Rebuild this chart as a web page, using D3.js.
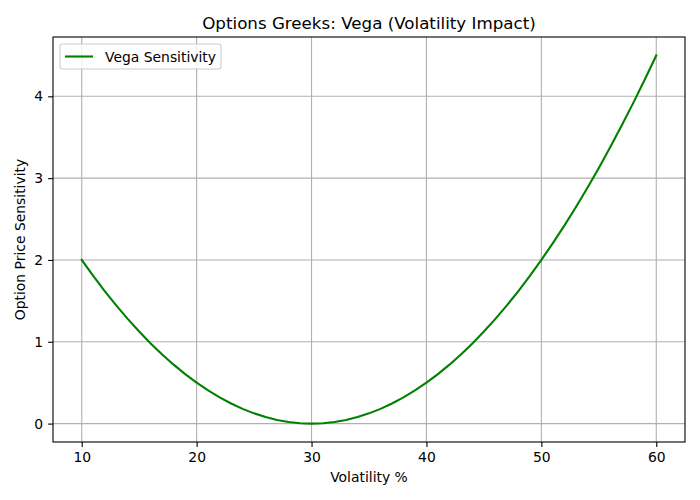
<!DOCTYPE html>
<html>
<head>
<meta charset="utf-8">
<script src="https://cdn.jsdelivr.net/npm/d3@7"></script>
<style>
  body { margin: 0; background: #fff; }
  text { font-family: "DejaVu Sans", sans-serif; fill: #000; }
</style>
</head>
<body>
<div id="chart"></div>
<script>
// Volatility levels (%) and the vega sensitivity
var volatility = [10, 11, 12, 13, 14, 15, 16, 17, 18, 19, 20, 21, 22, 23, 24, 25, 26, 27, 28, 29, 30,
  31, 32, 33, 34, 35, 36, 37, 38, 39, 40, 41, 42, 43, 44, 45, 46, 47, 48, 49, 50,
  51, 52, 53, 54, 55, 56, 57, 58, 59, 60];
var vega = [2.0, 1.805, 1.62, 1.445, 1.28, 1.125, 0.98, 0.845, 0.72, 0.605, 0.5, 0.405, 0.32, 0.245, 0.18, 0.125, 0.08, 0.045, 0.02, 0.005, 0.0,
  0.005, 0.02, 0.045, 0.08, 0.125, 0.18, 0.245, 0.32, 0.405, 0.5, 0.605, 0.72, 0.845, 0.98, 1.125, 1.28, 1.445, 1.62, 1.805, 2.0,
  2.205, 2.42, 2.645, 2.88, 3.125, 3.38, 3.645, 3.92, 4.205, 4.5];
var xTicks = [10, 20, 30, 40, 50, 60];
var yTicks = [0, 1, 2, 3, 4];

var svgWidth = 700;
var svgHeight = 500;
var margin = { top: 37, right: 15, bottom: 58, left: 53 };
var width = svgWidth - margin.left - margin.right;
var height = svgHeight - margin.top - margin.bottom;

var svg = d3.select("#chart")
  .append("svg")
  .attr("width", svgWidth)
  .attr("height", svgHeight);

var chartGroup = svg.append("g")
  .attr("transform", `translate(${margin.left}, ${margin.top})`);

// matplotlib style 5% padding on both axes
var xPad = (d3.max(volatility) - d3.min(volatility)) * 0.05;
var yPad = (d3.max(vega) - d3.min(vega)) * 0.05;

var xScale = d3.scaleLinear()
  .domain([d3.min(volatility) - xPad, d3.max(volatility) + xPad])
  .range([0, width]);

var yScale = d3.scaleLinear()
  .domain([d3.min(vega) - yPad, d3.max(vega) + yPad])
  .range([height, 0]);

// Grid lines
chartGroup.append("g")
  .selectAll("line")
  .data(xTicks)
  .enter()
  .append("line")
  .attr("x1", d => xScale(d))
  .attr("x2", d => xScale(d))
  .attr("y1", 0)
  .attr("y2", height)
  .attr("stroke", "#b0b0b0")
  .attr("stroke-width", 1.1);

chartGroup.append("g")
  .selectAll("line")
  .data(yTicks)
  .enter()
  .append("line")
  .attr("x1", 0)
  .attr("x2", width)
  .attr("y1", d => yScale(d))
  .attr("y2", d => yScale(d))
  .attr("stroke", "#b0b0b0")
  .attr("stroke-width", 1.1);

// Axes
var bottomAxis = d3.axisBottom(xScale).tickValues(xTicks).tickFormat(d3.format("d")).tickSize(4.9).tickPadding(4.9);
var leftAxis = d3.axisLeft(yScale).tickValues(yTicks).tickFormat(d3.format("d")).tickSize(4.9).tickPadding(4.9);

var xAxisG = chartGroup.append("g")
  .attr("transform", `translate(0, ${height})`)
  .call(bottomAxis);

var yAxisG = chartGroup.append("g")
  .call(leftAxis);

[xAxisG, yAxisG].forEach(function (g) {
  g.select(".domain").remove();
  g.selectAll(".tick line").attr("stroke", "#000").attr("stroke-width", 1.1);
  g.selectAll(".tick text")
    .style("font-family", "DejaVu Sans, sans-serif")
    .style("font-size", "13.9px")
    .attr("fill", "#000");
});

// The line
var line = d3.line()
  .x((d, i) => xScale(volatility[i]))
  .y(d => yScale(d));

chartGroup.append("path")
  .datum(vega)
  .attr("d", line)
  .attr("fill", "none")
  .attr("stroke", "green")
  .attr("stroke-width", 2.1)
  .attr("stroke-linejoin", "round")
  .attr("stroke-linecap", "square");

// Frame
chartGroup.append("rect")
  .attr("width", width)
  .attr("height", height)
  .attr("fill", "none")
  .attr("stroke", "#000")
  .attr("stroke-width", 1.1);

// Legend
var legend = chartGroup.append("g").attr("transform", "translate(7, 7)");
legend.append("rect")
  .attr("width", 161)
  .attr("height", 25)
  .attr("rx", 2.5)
  .attr("fill", "#fff")
  .attr("fill-opacity", 0.8)
  .attr("stroke", "#cccccc")
  .attr("stroke-width", 1.1);
legend.append("line")
  .attr("x1", 5).attr("x2", 33)
  .attr("y1", 12.5).attr("y2", 12.5)
  .attr("stroke", "green")
  .attr("stroke-width", 2.1);
legend.append("text")
  .attr("x", 45)
  .attr("y", 17.5)
  .style("font-size", "13.9px")
  .text("Vega Sensitivity");

// Title and labels
svg.append("text")
  .attr("x", margin.left + width / 2)
  .attr("y", 29)
  .style("text-anchor", "middle")
  .style("font-size", "16.7px")
  .text("Options Greeks: Vega (Volatility Impact)");

svg.append("text")
  .attr("x", margin.left + width / 2)
  .attr("y", 482)
  .style("text-anchor", "middle")
  .style("font-size", "13.9px")
  .text("Volatility %");

svg.append("text")
  .attr("transform", `translate(25, ${margin.top + height / 2}) rotate(-90)`)
  .style("text-anchor", "middle")
  .style("font-size", "13.9px")
  .text("Option Price Sensitivity");
</script>
</body>
</html>
